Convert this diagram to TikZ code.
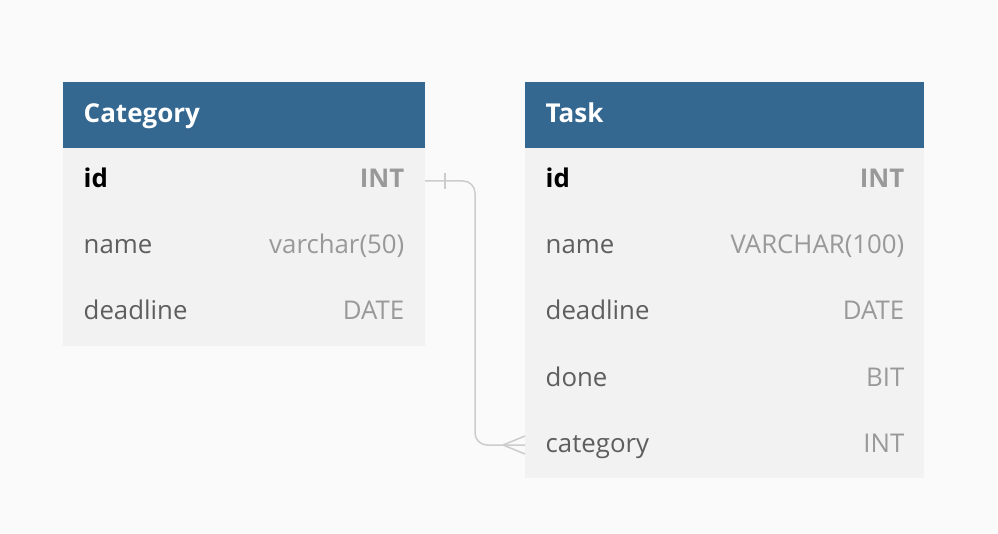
\documentclass[tikz,border=0pt]{standalone}
\usepackage{fontspec}
\setmainfont{Open Sans}
\definecolor{bgc}{HTML}{FAFAFA}
\definecolor{hdrc}{HTML}{346891}
\definecolor{rowc}{HTML}{F2F2F2}
\definecolor{fieldc}{HTML}{5E5E5E}
\definecolor{typec}{HTML}{999999}
\definecolor{linec}{HTML}{CCCCCC}
\tikzset{
  hdr/.style={fill=hdrc, draw=none, anchor=north west, minimum height=66pt, inner sep=0pt, outer sep=0pt},
  rowbox/.style={fill=rowc, draw=none, anchor=north west, minimum height=66pt, inner sep=0pt, outer sep=0pt},
  ttl/.style={anchor=base west, inner sep=0pt, text=white, font=\fontsize{26}{30}\selectfont\bfseries},
  fld/.style={anchor=base west, inner sep=0pt, text=fieldc, font=\fontsize{25.8}{30}\selectfont},
  pkf/.style={anchor=base west, inner sep=0pt, text=black, font=\fontsize{25.8}{30}\selectfont\bfseries},
  typ/.style={anchor=base east, inner sep=0pt, text=typec, font=\fontsize{25.8}{30}\selectfont},
  pkt/.style={anchor=base east, inner sep=0pt, text=typec, font=\fontsize{25.8}{30}\selectfont\bfseries},
  conn/.style={draw=linec, line width=1.5pt}
}
\begin{document}
\begin{tikzpicture}[x=1pt,y=-1pt]
\fill[bgc] (0,0) rectangle (998,534);
\useasboundingbox (0,0) rectangle (998,534);
% Category table
\node[hdr, minimum width=362pt] (chead) at (63,82) {};
\node[rowbox, minimum width=362pt] (cid) at (63,148) {};
\node[rowbox, minimum width=362pt] (cname) at (63,214) {};
\node[rowbox, minimum width=362pt] (cdead) at (63,280) {};
\node[ttl] (chtxt) at (83.5,122.5) {Category};
\node[pkf] (cidf) at (83.5,188) {id};
\node[pkt] (cidt) at (404.5,188) {INT};
\node[fld] (cnamef) at (83.5,254) {name};
\node[typ] (cnamet) at (404.5,254) {varchar(50)};
\node[fld] (cdeadf) at (83.5,320) {deadline};
\node[typ] (cdeadt) at (404.5,320) {DATE};
% Task table
\node[hdr, minimum width=399pt] (thead) at (525,82) {};
\node[rowbox, minimum width=399pt] (tid) at (525,148) {};
\node[rowbox, minimum width=399pt] (tname) at (525,214) {};
\node[rowbox, minimum width=399pt] (tdead) at (525,280) {};
\node[rowbox, minimum width=399pt] (tdone) at (525,346) {};
\node[rowbox, minimum width=399pt] (tcat) at (525,412) {};
\node[ttl] (thtxt) at (545.5,122.5) {Task};
\node[pkf] (tidf) at (545.5,188) {id};
\node[pkt] (tidt) at (904.5,188) {INT};
\node[fld] (tnamef) at (545.5,254) {name};
\node[typ] (tnamet) at (904.5,254) {VARCHAR(100)};
\node[fld] (tdeadf) at (545.5,320) {deadline};
\node[typ] (tdeadt) at (904.5,320) {DATE};
\node[fld] (tdonef) at (545.5,386) {done};
\node[typ] (tdonet) at (904.5,386) {BIT};
\node[fld] (tcatf) at (545.5,452) {category};
\node[typ] (tcatt) at (904.5,452) {INT};
% connector
\draw[conn, rounded corners=12pt] (cid.east) -- ++(50,0) |- (tcat.west);
\draw[conn] ([xshift=20pt,yshift=-8pt]cid.east) -- ([xshift=20pt,yshift=8pt]cid.east);
\draw[conn] ([xshift=-22pt]tcat.west) -- ([yshift=9pt]tcat.west);
\draw[conn] ([xshift=-22pt]tcat.west) -- ([yshift=-9pt]tcat.west);
\end{tikzpicture}
\end{document}
